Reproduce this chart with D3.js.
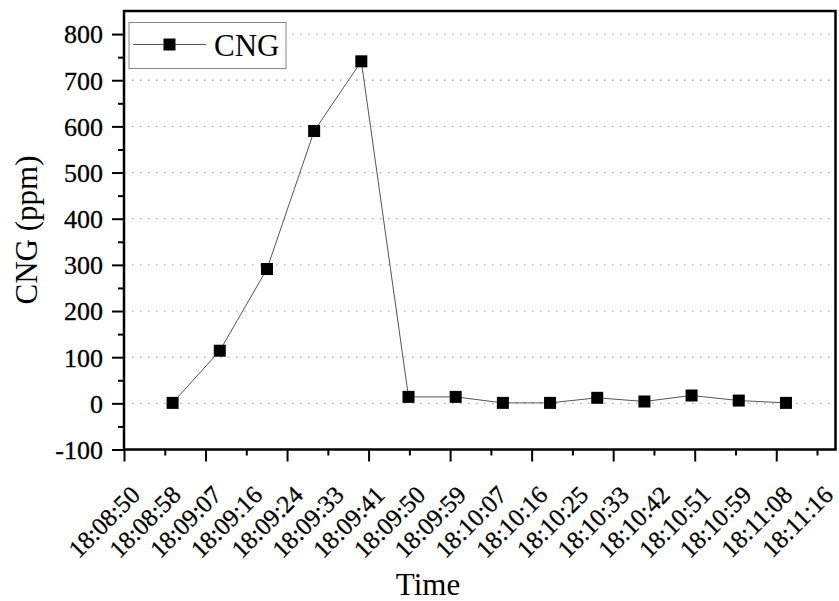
<!DOCTYPE html>
<html><head><meta charset="utf-8">
<script src="https://cdn.jsdelivr.net/npm/d3@7"></script>
<style>
body{margin:0;background:#fff;}
</style></head>
<body><svg id="c" width="839" height="601"></svg>
<script>
// seconds after 18:08:50
const sampleTimes = [10.3, 20.3, 30.3, 40.3, 50.3, 60.3, 70.3, 80.3, 90.3, 100.3, 110.3, 120.3, 130.3, 140.3];
const cngValues   = [1, 114, 291, 590, 741, 14, 14, 1, 1, 12, 4, 17, 6, 1];
const xTickTimes  = [0, 8.64, 17.28, 25.92, 34.56, 43.2, 51.84, 60.48, 69.12, 77.76, 86.4, 95.04, 103.68, 112.32, 120.96, 129.6, 138.24, 146.88];
const xTickLabels = ["18:08:50","18:08:58","18:09:07","18:09:16","18:09:24","18:09:33","18:09:41","18:09:50","18:09:59","18:10:07","18:10:16","18:10:25","18:10:33","18:10:42","18:10:51","18:10:59","18:11:08","18:11:16"];
const yTicks      = [-100, 0, 100, 200, 300, 400, 500, 600, 700, 800];
const yMinorTicks = [-50, 50, 150, 250, 350, 450, 550, 650, 750];
const seriesName  = "CNG";

const FONT = '"Liberation Serif","Times New Roman",serif';
const svg = d3.select("#c");
const L = 124, R = 835.5, T = 11, B = 449.5;
const x = d3.scaleLinear().domain([0, 150.8]).range([L, R]);
const y = d3.scaleLinear().domain([-100, 850]).range([B, T]);

// grid
svg.append("g").selectAll("line").data(yTicks.filter(d => d >= 0)).join("line")
  .attr("x1", L).attr("x2", R).attr("y1", d => y(d)).attr("y2", d => y(d))
  .attr("stroke", "#aaa").attr("stroke-width", 1.3).attr("stroke-dasharray", "1.5,6.5");

// y axis
const yAx = svg.append("g").attr("transform", `translate(${L},0)`)
  .call(d3.axisLeft(y).tickValues(yTicks).tickSize(12).tickPadding(9).tickFormat(d => String(d)))
  .attr("font-family", FONT).attr("font-size", 26);
yAx.select(".domain").remove();
yAx.selectAll(".tick line").attr("stroke-width", 2);
yAx.selectAll(".tick text").style("font-size", "26px").style("font-family", FONT)
  .style("fill", "#000").style("stroke", "#000").style("stroke-width", "0.3px").attr("dy", "0.34em");
svg.append("g").attr("transform", `translate(${L},0)`)
  .call(d3.axisLeft(y).tickValues(yMinorTicks).tickSize(6).tickFormat(""))
  .call(g => g.select(".domain").remove())
  .selectAll(".tick line").attr("stroke-width", 2);

// x axis
const xAx = svg.append("g").attr("transform", `translate(0,${B})`)
  .call(d3.axisBottom(x).tickValues(xTickTimes).tickSize(5).tickFormat((d, i) => xTickLabels[i]))
  .attr("font-family", FONT).attr("font-size", 25);
xAx.select(".domain").remove();
xAx.selectAll(".tick line").attr("stroke-width", 2).attr("y2", (d, i) => i % 2 === 0 ? 12 : 6);
xAx.selectAll(".tick text")
  .style("font-size", "25px").style("font-family", FONT)
  .style("fill", "#000").style("stroke", "#000").style("stroke-width", "0.3px")
  .attr("text-anchor", "end").attr("y", 0).attr("dy", 0)
  .attr("transform", "translate(17,47) rotate(-45)");

// frame
svg.append("rect").attr("x", L).attr("y", T).attr("width", R - L).attr("height", B - T)
  .attr("fill", "none").attr("stroke", "#000").attr("stroke-width", 2.5);

// line
const pts = sampleTimes.map((t, i) => [t, cngValues[i]]);
svg.append("path").datum(pts)
  .attr("d", d3.line().x(d => x(d[0])).y(d => y(d[1])))
  .attr("fill", "none").attr("stroke", "#555").attr("stroke-width", 1);
svg.append("g").selectAll("rect").data(pts).join("rect")
  .attr("x", d => x(d[0]) - 6).attr("y", d => y(d[1]) - 6)
  .attr("width", 12).attr("height", 12).attr("fill", "#000");

// axis titles
svg.append("text").attr("x", 428).attr("y", 595).attr("text-anchor", "middle")
  .style("font-family", FONT).style("font-size", "31px").text("Time");
svg.append("text").attr("transform", "translate(37,230) rotate(-90)").attr("text-anchor", "middle")
  .style("font-family", FONT).style("font-size", "31px").text("CNG (ppm)");

// legend
const lg = svg.append("g");
lg.append("rect").attr("x", 129).attr("y", 22.5).attr("width", 157).attr("height", 46)
  .attr("fill", "#fff").attr("stroke", "#888").attr("stroke-width", 1);
lg.append("line").attr("x1", 133).attr("x2", 206).attr("y1", 44.5).attr("y2", 44.5)
  .attr("stroke", "#555").attr("stroke-width", 1);
lg.append("rect").attr("x", 163.5).attr("y", 38.5).attr("width", 12).attr("height", 12).attr("fill", "#000");
lg.append("text").attr("x", 214).attr("y", 56).style("font-family", FONT).style("font-size", "31px").text(seriesName);
</script></body></html>
